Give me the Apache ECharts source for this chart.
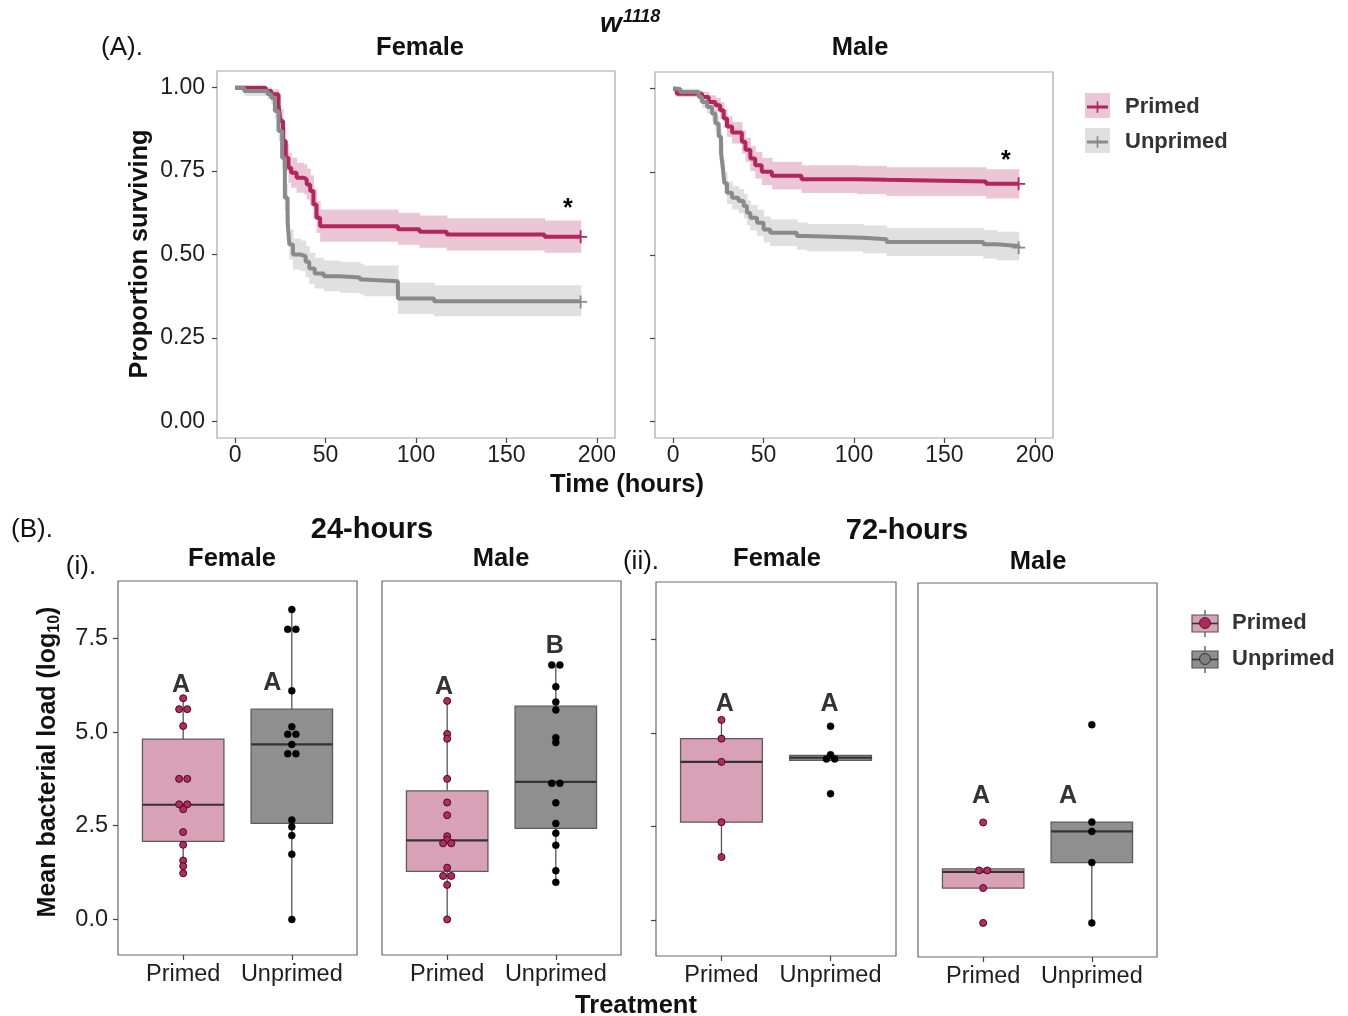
<!DOCTYPE html>
<html><head><meta charset="utf-8">
<script src="https://cdn.jsdelivr.net/npm/echarts@6/dist/echarts.min.js"></script>
<style>html,body{margin:0;padding:0;background:#fff}#c{width:1348px;height:1016px}</style>
</head><body><div id="c"></div>
<script>
// ---------- tick labels / categories ----------
const treatments = ['Primed', 'Unprimed'];
const timeTicks = [0, 50, 100, 150, 200];
const survTicks = [0, 0.25, 0.5, 0.75, 1.0];
const loadTicks = [0, 2.5, 5, 7.5];

// ---------- (A) survival curves: time (h), survival, CI low, CI high ----------
const femPrimedT  = [0, 17, 20, 24, 25, 26.5, 28, 29.5, 31, 34, 38, 39.6, 41.5, 43.3, 45, 47, 90, 102, 117, 171, 191];
const femPrimedS  = [1.0, 0.99, 0.98, 0.95, 0.90, 0.84, 0.79, 0.76, 0.745, 0.73, 0.725, 0.71, 0.69, 0.65, 0.61, 0.585, 0.576, 0.568, 0.56, 0.553, 0.553];
const femPrimedLo = [1.0, 0.975, 0.96, 0.925, 0.87, 0.805, 0.75, 0.715, 0.70, 0.685, 0.68, 0.665, 0.645, 0.605, 0.565, 0.538, 0.529, 0.52, 0.512, 0.505, 0.505];
const femPrimedHi = [1.0, 1.0, 0.995, 0.975, 0.935, 0.88, 0.83, 0.805, 0.79, 0.775, 0.77, 0.757, 0.737, 0.697, 0.66, 0.635, 0.625, 0.617, 0.609, 0.602, 0.602];

const femUnprimedT  = [0, 5, 18, 20, 22, 24, 26, 27.5, 29, 30, 32, 36, 39, 41, 44, 49, 58, 69, 71, 90, 110, 191];
const femUnprimedS  = [1.0, 0.99, 0.98, 0.97, 0.93, 0.87, 0.79, 0.67, 0.60, 0.53, 0.50, 0.495, 0.478, 0.458, 0.443, 0.435, 0.431, 0.425, 0.42, 0.368, 0.36, 0.358];
const femUnprimedLo = [1.0, 0.975, 0.965, 0.95, 0.905, 0.84, 0.755, 0.63, 0.555, 0.485, 0.455, 0.45, 0.432, 0.412, 0.398, 0.39, 0.385, 0.38, 0.375, 0.322, 0.315, 0.313];
const femUnprimedHi = [1.0, 1.0, 0.995, 0.99, 0.955, 0.9, 0.825, 0.71, 0.645, 0.575, 0.548, 0.542, 0.525, 0.505, 0.49, 0.482, 0.478, 0.472, 0.467, 0.415, 0.408, 0.405];

const malePrimedT  = [0, 2, 16, 19.7, 23.4, 26, 28, 29.8, 32.6, 38, 40, 42.7, 45.4, 49, 54.6, 71, 101.6, 118, 173, 191];
const malePrimedS  = [1.0, 0.985, 0.975, 0.96, 0.95, 0.935, 0.91, 0.886, 0.868, 0.84, 0.816, 0.79, 0.77, 0.75, 0.738, 0.728, 0.726, 0.721, 0.714, 0.714];
const malePrimedLo = [1.0, 0.975, 0.96, 0.94, 0.928, 0.91, 0.882, 0.855, 0.835, 0.805, 0.78, 0.752, 0.73, 0.71, 0.697, 0.686, 0.683, 0.677, 0.67, 0.67];
const malePrimedHi = [1.0, 0.995, 0.99, 0.98, 0.972, 0.96, 0.938, 0.917, 0.9, 0.875, 0.852, 0.828, 0.81, 0.792, 0.78, 0.77, 0.768, 0.764, 0.758, 0.758];

const maleUnprimedT  = [0, 4, 14.2, 16, 18.8, 21.5, 23.4, 25.2, 26.5, 27.6, 28.3, 29.8, 32.6, 36.2, 39, 40.8, 42.7, 46.4, 50, 53.7, 68.4, 74, 105, 118, 171.5, 178.8, 191];
const maleUnprimedS  = [1.0, 0.99, 0.975, 0.96, 0.945, 0.925, 0.895, 0.856, 0.806, 0.756, 0.716, 0.687, 0.672, 0.662, 0.647, 0.627, 0.612, 0.597, 0.577, 0.567, 0.557, 0.552, 0.547, 0.539, 0.532, 0.527, 0.522];
const maleUnprimedLo = [1.0, 0.98, 0.96, 0.943, 0.925, 0.903, 0.87, 0.828, 0.776, 0.724, 0.683, 0.653, 0.637, 0.626, 0.61, 0.59, 0.574, 0.558, 0.538, 0.527, 0.516, 0.511, 0.505, 0.497, 0.489, 0.484, 0.478];
const maleUnprimedHi = [1.0, 1.0, 0.99, 0.977, 0.965, 0.947, 0.92, 0.884, 0.836, 0.788, 0.749, 0.721, 0.707, 0.698, 0.684, 0.664, 0.65, 0.636, 0.616, 0.607, 0.598, 0.593, 0.589, 0.581, 0.575, 0.57, 0.566];

// significance star positions [time, survival]
const femStar = [184, 0.635];
const maleStar = [184, 0.783];

// ---------- (B) bacterial load: box stats [whiskerLow, Q1, median, Q3, whiskerHigh] ----------
const box24FemPrimed   = [1.23, 2.08, 3.06, 4.81, 5.90];
const box24FemUnprimed = [0.0, 2.56, 4.67, 5.61, 8.27];
const box24MalePrimed   = [0.0, 1.28, 2.11, 3.43, 5.83];
const box24MaleUnprimed = [0.99, 2.43, 3.67, 5.69, 6.79];
const box72FemPrimed   = [1.69, 2.62, 4.23, 4.85, 5.35];
const box72FemUnprimed = [4.27, 4.27, 4.34, 4.40, 4.40];
const box72MalePrimed   = [0.89, 0.89, 1.32, 1.40, 1.40];
const box72MaleUnprimed = [-0.04, 1.57, 2.40, 2.65, 2.65];

// individual points
const pts24FemPrimed   = [5.90, 5.61, 5.61, 5.16, 3.75, 3.75, 3.07, 3.07, 2.94, 2.33, 1.99, 1.57, 1.42, 1.23];
const pts24FemUnprimed = [8.27, 7.74, 7.74, 6.10, 5.14, 4.94, 4.94, 4.67, 4.42, 4.42, 2.65, 2.47, 2.24, 1.74, 0.0];
const pts24MalePrimed   = [5.83, 4.95, 4.82, 3.75, 3.12, 2.78, 2.22, 2.12, 2.03, 2.03, 1.38, 1.16, 1.16, 0.92, 0.0];
const pts24MaleUnprimed = [6.79, 6.79, 6.21, 5.80, 5.59, 4.85, 4.72, 3.63, 3.63, 3.11, 2.56, 2.30, 1.98, 1.30, 0.99];
const pts72FemPrimed   = [5.35, 4.85, 4.23, 2.62, 1.69];
const pts72FemUnprimed = [5.18, 4.42, 4.31, 4.31, 3.38];
const pts72MalePrimed   = [2.64, 1.36, 1.36, 0.89, -0.04];
const pts72MaleUnprimed = [5.25, 2.65, 2.40, 1.57, -0.04];

// letters: [label, x, y]
const letters24Fem  = [['A', 0.98, 6.25], ['A', 1.82, 6.30]];
const letters24Male = [['A', 0.97, 6.21], ['B', 1.99, 7.30]];
const letters72Fem  = [['A', 1.03, 5.78], ['A', 1.99, 5.78]];
const letters72Male = [['A', 0.98, 3.34], ['A', 1.78, 3.34]];

// ---------- styles ----------
const FONT = 'Liberation Sans, Arial, Helvetica, sans-serif';
const RED = '#b3265d', GREYL = '#8a8a8a';
const RED_BAND = '#ebc7d5', GREY_BAND = '#e0e0e0';
const BOX_PINK = '#d8a1b6', BOX_GREY = '#8f8f8f';

const chart = echarts.init(document.getElementById('c'));

const zip = (a, b) => a.map((v, i) => [v, b[i]]);
const bandData = (T, Lo, Hi) => T.slice(0, -1).map((t, i) => [t, T[i + 1], Lo[i], Hi[i]]);

function bandItem(params, api) {
  const p0 = api.coord([api.value(0), api.value(3)]);
  const p1 = api.coord([api.value(1), api.value(2)]);
  return { type: 'rect', shape: { x: p0[0], y: p0[1], width: p1[0] - p0[0] + 0.6, height: Math.max(p1[1] - p0[1], 0.5) },
           style: { fill: api.visual('color') } };
}
function boxItem(params, api) {
  const x = api.value(0), h = 0.375;
  const lo = api.value(1), q1 = api.value(2), med = api.value(3), q3 = api.value(4), hi = api.value(5);
  const a = api.coord([x - h, q3]), b = api.coord([x + h, q1]);
  const mL = api.coord([x - h, med]), mR = api.coord([x + h, med]);
  const wT = api.coord([x, hi]), w3 = api.coord([x, q3]), w1 = api.coord([x, q1]), wB = api.coord([x, lo]);
  return { type: 'group', children: [
    { type: 'line', shape: { x1: wT[0], y1: wT[1], x2: w3[0], y2: w3[1] }, style: { stroke: '#555', lineWidth: 1.3 } },
    { type: 'line', shape: { x1: w1[0], y1: w1[1], x2: wB[0], y2: wB[1] }, style: { stroke: '#555', lineWidth: 1.3 } },
    { type: 'rect', shape: { x: a[0], y: a[1], width: b[0] - a[0], height: b[1] - a[1] }, style: { fill: api.visual('color'), stroke: '#5c5c5c', lineWidth: 1.3 } },
    { type: 'line', shape: { x1: mL[0], y1: mL[1], x2: mR[0], y2: mR[1] }, style: { stroke: '#333', lineWidth: 2.2 } }
  ] };
}
function dodge(vals, x) {
  const out = [], used = vals.map(() => false);
  for (let i = 0; i < vals.length; i++) {
    if (used[i]) continue;
    const grp = [i]; used[i] = true;
    for (let j = i + 1; j < vals.length; j++) if (!used[j] && Math.abs(vals[j] - vals[i]) < 0.03) { grp.push(j); used[j] = true; }
    grp.forEach((k, m) => out.push([x + (m - (grp.length - 1) / 2) * 0.075, vals[k]]));
  }
  return out;
}

// ---------- grids ----------
const grids = [
  { left: 217, top: 71, width: 398, height: 367, show: true, borderColor: '#a8a8a8', borderWidth: 1.2 },
  { left: 655, top: 72, width: 398, height: 366, show: true, borderColor: '#a8a8a8', borderWidth: 1.2 },
  { left: 118, top: 581, width: 239, height: 374, show: true, borderColor: '#6a6a6a', borderWidth: 1.2 },
  { left: 382, top: 581, width: 239, height: 374, show: true, borderColor: '#6a6a6a', borderWidth: 1.2 },
  { left: 656, top: 582, width: 240, height: 374, show: true, borderColor: '#6a6a6a', borderWidth: 1.2 },
  { left: 918, top: 583, width: 239, height: 374, show: true, borderColor: '#6a6a6a', borderWidth: 1.2 }
];
const tickStyle = { length: 5, lineStyle: { color: '#444', width: 1.2 } };
const labTop = { fontSize: 23, color: '#1e1e1e', fontFamily: FONT };
const labBot = { fontSize: 23.5, color: '#1e1e1e', fontFamily: FONT };
const noLine = { show: false, onZero: false };

const xAxes = [0, 1].map(g => ({
  gridIndex: g, type: 'value', min: -10, max: 210, position: 'bottom',
  axisLine: noLine, splitLine: { show: false },
  axisTick: Object.assign({ show: true, customValues: timeTicks }, tickStyle),
  axisLabel: Object.assign({ customValues: timeTicks, margin: 6 }, labTop)
})).concat([2, 3, 4, 5].map(g => ({
  gridIndex: g, type: 'value', min: 0.4, max: 2.6, position: 'bottom',
  axisLine: noLine, splitLine: { show: false },
  axisTick: Object.assign({ show: true, customValues: [1, 2] }, tickStyle),
  axisLabel: Object.assign({ customValues: [1, 2], margin: 8, formatter: v => treatments[Math.round(v) - 1] }, labBot)
})));
const yAxes = [0, 1].map(g => ({
  gridIndex: g, type: 'value', min: -0.05, max: 1.05, position: 'left',
  axisLine: noLine, splitLine: { show: false },
  axisTick: Object.assign({ show: true, customValues: survTicks }, tickStyle),
  axisLabel: Object.assign({ show: g === 0, customValues: survTicks, margin: 12, formatter: v => v.toFixed(2) }, labTop)
})).concat([2, 3, 4, 5].map(g => ({
  gridIndex: g, type: 'value', min: -0.95, max: 9.03, position: 'left',
  axisLine: noLine, splitLine: { show: false },
  axisTick: Object.assign({ show: g === 2 || g === 4, customValues: loadTicks }, tickStyle),
  axisLabel: Object.assign({ show: g === 2, customValues: loadTicks, margin: 10, formatter: v => v.toFixed(1) }, labBot)
})));

// ---------- series ----------
const series = [];
const panels = [
  { g: 2, boxes: [box24FemPrimed, box24FemUnprimed], pts: [pts24FemPrimed, pts24FemUnprimed], letters: letters24Fem },
  { g: 3, boxes: [box24MalePrimed, box24MaleUnprimed], pts: [pts24MalePrimed, pts24MaleUnprimed], letters: letters24Male },
  { g: 4, boxes: [box72FemPrimed, box72FemUnprimed], pts: [pts72FemPrimed, pts72FemUnprimed], letters: letters72Fem },
  { g: 5, boxes: [box72MalePrimed, box72MaleUnprimed], pts: [pts72MalePrimed, pts72MaleUnprimed], letters: letters72Male }
];
// points first so the legends pick scatter series
panels.forEach(p => {
  treatments.forEach((tr, k) => {
    series.push({ type: 'scatter', name: tr, xAxisIndex: p.g, yAxisIndex: p.g, z: 5, symbolSize: 7,
      itemStyle: k === 0 ? { color: '#b8295f', borderColor: '#3d0f22', borderWidth: 1, opacity: 1 } : { color: '#000', borderColor: '#000', borderWidth: 0.5, opacity: 1 },
      data: dodge(p.pts[k], k + 1) });
  });
});
panels.forEach(p => {
  treatments.forEach((tr, k) => {
    series.push({ type: 'custom', name: tr, xAxisIndex: p.g, yAxisIndex: p.g, z: 2,
      itemStyle: { color: k === 0 ? BOX_PINK : BOX_GREY },
      renderItem: boxItem, encode: { x: 0, y: [1, 2, 3, 4, 5] },
      data: [[k + 1].concat(p.boxes[k])] });
  });
  series.push({ type: 'scatter', name: 'letters', xAxisIndex: p.g, yAxisIndex: p.g, z: 6, symbolSize: 0,
    itemStyle: { opacity: 1 },
    label: { show: true, position: 'inside', formatter: '{b}', fontSize: 25, fontWeight: 'bold', color: '#333', fontFamily: FONT, opacity: 1 },
    data: p.letters.map(l => ({ name: l[0], value: [l[1], l[2]] })) });
});

const curves = [
  { g: 0, name: 'Primed', T: femPrimedT, S: femPrimedS, Lo: femPrimedLo, Hi: femPrimedHi, c: RED, bc: RED_BAND },
  { g: 0, name: 'Unprimed', T: femUnprimedT, S: femUnprimedS, Lo: femUnprimedLo, Hi: femUnprimedHi, c: GREYL, bc: GREY_BAND },
  { g: 1, name: 'Primed', T: malePrimedT, S: malePrimedS, Lo: malePrimedLo, Hi: malePrimedHi, c: RED, bc: RED_BAND },
  { g: 1, name: 'Unprimed', T: maleUnprimedT, S: maleUnprimedS, Lo: maleUnprimedLo, Hi: maleUnprimedHi, c: GREYL, bc: GREY_BAND }
];
curves.forEach(cv => {
  series.push({ type: 'custom', name: cv.name + ' CI', xAxisIndex: cv.g, yAxisIndex: cv.g, z: 1,
    itemStyle: { color: cv.bc }, renderItem: bandItem, encode: { x: [0, 1], y: [2, 3] },
    data: bandData(cv.T, cv.Lo, cv.Hi) });
});
curves.forEach(cv => {
  series.push({ type: 'line', name: cv.name, xAxisIndex: cv.g, yAxisIndex: cv.g, z: 3, step: 'end',
    showSymbol: false, symbol: 'none', lineStyle: { width: 4, color: cv.c }, itemStyle: { color: cv.c },
    data: zip(cv.T, cv.S) });
  series.push({ type: 'scatter', name: cv.name + ' censor', xAxisIndex: cv.g, yAxisIndex: cv.g, z: 4,
    symbol: 'path://M4.3,0 H5.7 V4.3 H10 V5.7 H5.7 V10 H4.3 V5.7 H0 V4.3 H4.3 Z', symbolSize: 13,
    itemStyle: { color: cv.c, opacity: 1 }, data: [[cv.T[cv.T.length - 1], cv.S[cv.S.length - 1]]] });
});
[[0, femStar], [1, maleStar]].forEach(([g, s]) => {
  series.push({ type: 'scatter', name: 'star', xAxisIndex: g, yAxisIndex: g, z: 6, symbolSize: 0,
    itemStyle: { opacity: 1 },
    label: { show: true, position: 'inside', formatter: '*', fontSize: 25, fontWeight: 'bold', color: '#000', fontFamily: FONT },
    data: [s] });
});

// ---------- text and legend decorations ----------
const T = (x, y, text, size, bold, extra) => Object.assign({ type: 'text', x, y, style: { text, fontSize: size, fontWeight: bold ? 'bold' : 'normal', fontFamily: FONT, fill: '#111', align: 'center', verticalAlign: 'middle' } }, extra || {});
const graphic = [
  T(122, 48, '(A).', 26, false),
  { type: 'text', x: 611, y: 24, style: { text: 'w', fontSize: 28, fontWeight: 'bold', fontStyle: 'italic', fontFamily: FONT, fill: '#111', align: 'center', verticalAlign: 'middle' } },
  { type: 'text', x: 623, y: 17, style: { text: '1118', fontSize: 18, fontWeight: 'bold', fontStyle: 'italic', fontFamily: FONT, fill: '#111', align: 'left', verticalAlign: 'middle' } },
  T(420, 48, 'Female', 25.5, true),
  T(860, 48, 'Male', 25.5, true),
  T(140, 254, 'Proportion surviving', 25.3, true, { rotation: Math.PI / 2 }),
  T(627, 485, 'Time (hours)', 25.5, true),
  T(32, 530, '(B).', 26, false),
  T(372, 530, '24-hours', 29, true),
  T(907, 531, '72-hours', 29, true),
  T(81, 567, '(i).', 26, false),
  T(641, 562, '(ii).', 26, false),
  T(232, 559, 'Female', 25.5, true),
  T(501, 559, 'Male', 25.5, true),
  T(777, 559, 'Female', 25.5, true),
  T(1038, 562, 'Male', 25.5, true),
  T(636, 1006, 'Treatment', 25.5, true),
  { type: 'text', x: 48, y: 762, rotation: Math.PI / 2, style: {
      text: '{a|Mean bacterial load (log}{s|10}{a|)}', align: 'center', verticalAlign: 'middle', fill: '#111',
      rich: { a: { fontSize: 25, fontWeight: 'bold', fontFamily: FONT, fill: '#111', lineHeight: 30 },
              s: { fontSize: 16, fontWeight: 'bold', fontFamily: FONT, fill: '#111', lineHeight: 30, verticalAlign: 'bottom' } } } },
  // top legend keys
  { type: 'rect', shape: { x: 1085, y: 93, width: 25, height: 25 }, style: { fill: RED_BAND } },
  { type: 'rect', shape: { x: 1085, y: 128, width: 25, height: 25 }, style: { fill: GREY_BAND } },
  // bottom legend keys
  { type: 'line', shape: { x1: 1205, y1: 610, x2: 1205, y2: 637 }, style: { stroke: '#444', lineWidth: 1.2 } },
  { type: 'rect', shape: { x: 1192, y: 615, width: 26, height: 17 }, style: { fill: BOX_PINK, stroke: '#555', lineWidth: 1.2 } },
  { type: 'line', shape: { x1: 1192, y1: 623.5, x2: 1218, y2: 623.5 }, style: { stroke: '#333', lineWidth: 1.6 } },
  { type: 'line', shape: { x1: 1205, y1: 646, x2: 1205, y2: 673 }, style: { stroke: '#444', lineWidth: 1.2 } },
  { type: 'rect', shape: { x: 1192, y: 651, width: 26, height: 17 }, style: { fill: BOX_GREY, stroke: '#555', lineWidth: 1.2 } },
  { type: 'line', shape: { x1: 1192, y1: 659.5, x2: 1218, y2: 659.5 }, style: { stroke: '#333', lineWidth: 1.6 } }
];

const PLUSLINE = 'path://M0,11 L26,11 L26,15 L0,15 Z M12,6 L14,6 L14,20 L12,20 Z';
const option = {
  animation: false,
  backgroundColor: '#fff',
  grid: grids, xAxis: xAxes, yAxis: yAxes, series: series, graphic: graphic,
  legend: [
    { left: 1087, top: 94, padding: 0, orient: 'vertical', itemWidth: 21, itemHeight: 12, itemGap: 9, selectedMode: false,
      textStyle: { fontSize: 22, fontWeight: 'bold', color: '#333', fontFamily: FONT, lineHeight: 26, padding: [0, 0, 0, 12] },
      data: [{ name: 'Primed', icon: PLUSLINE, itemStyle: { color: RED, borderWidth: 0 } },
             { name: 'Unprimed', icon: PLUSLINE, itemStyle: { color: GREYL, borderWidth: 0 } }] },
    { left: 1199, top: 610, padding: 0, orient: 'vertical', itemWidth: 26, itemHeight: 11, itemGap: 10, selectedMode: false,
      textStyle: { fontSize: 22, fontWeight: 'bold', color: '#333', fontFamily: FONT, lineHeight: 26, padding: [0, 0, 0, 9] },
      data: [{ name: 'Primed', icon: 'circle', itemStyle: { color: RED, borderColor: '#333', borderWidth: 1 } },
             { name: 'Unprimed', icon: 'circle', itemStyle: { color: '#808080', borderColor: '#333', borderWidth: 1 } }] }
  ]
};
chart.setOption(option);
</script></body></html>
